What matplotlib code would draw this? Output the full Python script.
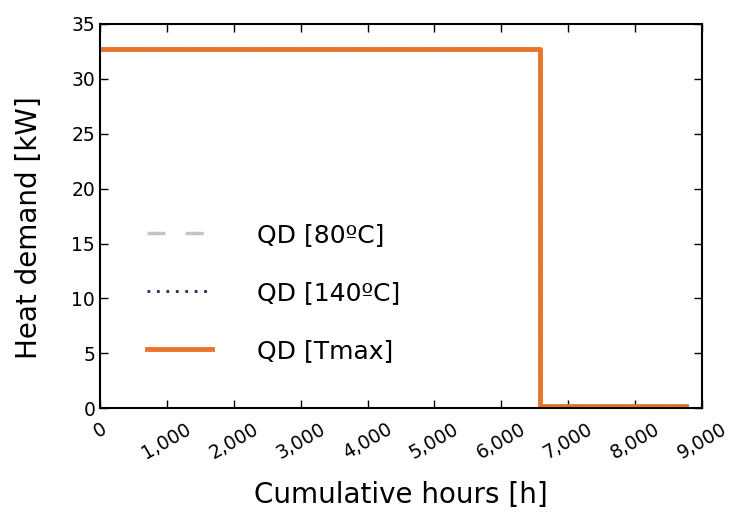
import matplotlib
matplotlib.use("Agg")
import matplotlib.pyplot as plt
from matplotlib.ticker import FuncFormatter

# Load duration curve of the heat demand (hours sorted by demand)
hours = [0, 6580, 6580, 8760]
qd_80 = [32.7, 32.7, 0.2, 0.2]
qd_140 = [32.7, 32.7, 0.2, 0.2]
qd_tmax = [32.7, 32.7, 0.2, 0.2]

x_ticks = [0, 1000, 2000, 3000, 4000, 5000, 6000, 7000, 8000, 9000]
y_ticks = [0, 5, 10, 15, 20, 25, 30, 35]

fig = plt.figure(figsize=(7.3, 5.16), dpi=100)
ax = fig.add_axes([0.137, 0.209, 0.8246, 0.7445])

ax.plot(hours, qd_80, color="#c4c4c4", linestyle=(0, (5.2, 5.8)), linewidth=2.5, label="QD [80ºC]")
ax.plot(hours, qd_140, color="#1f2a5a", linestyle=(0, (1, 2.4)), linewidth=2, label="QD [140ºC]")
ax.plot(hours, qd_tmax, color="#e8742c", linestyle="-", linewidth=3.5, label="QD [Tmax]")

ax.set_xlim(0, 9000)
ax.set_ylim(0, 35)
ax.set_xticks(x_ticks)
ax.set_yticks(y_ticks)
ax.xaxis.set_major_formatter(FuncFormatter(lambda v, p: f"{int(v):,}"))
ax.tick_params(direction="in", top=True, right=True, length=6, width=1, labelsize=13.5)
ax.tick_params(axis="x", pad=8)
plt.setp(ax.get_xticklabels(), rotation=30, ha="center")
for s in ax.spines.values():
    s.set_linewidth(1.5)

ax.set_xlabel("Cumulative hours [h]", fontsize=20, labelpad=13)
ax.set_ylabel("Heat demand [kW]", fontsize=20)
ax.yaxis.set_label_coords(-0.095, 0.47)

ax.legend(loc="center left", bbox_to_anchor=(0.04, 0.30), frameon=False, fontsize=18,
          handlelength=2.6, handletextpad=1.8, labelspacing=1.35)

fig.savefig("out.png", dpi=100)
